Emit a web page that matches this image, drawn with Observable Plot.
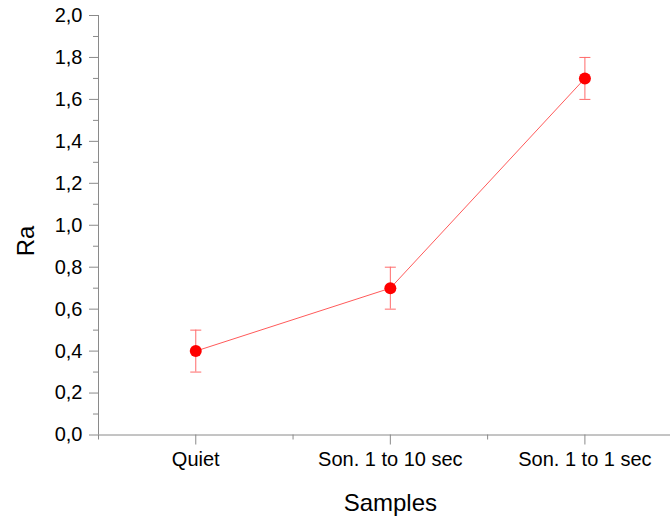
<!DOCTYPE html>
<html>
<head>
<meta charset="utf-8">
<script src="https://cdn.jsdelivr.net/npm/d3@7"></script>
<script src="https://cdn.jsdelivr.net/npm/@observablehq/plot@0.6"></script>
<style>
  html, body { margin: 0; padding: 0; background: #fff; }
  svg { display: block; }
</style>
</head>
<body>
<div id="chart"></div>
<script>
const categories = ["Quiet", "Son. 1 to 10 sec", "Son. 1 to 1 sec"];
const categoryPos = [1, 2, 3];
const raValues = [0.4, 0.7, 1.7];
const raErrors = [0.1, 0.1, 0.1];
const yMajorTicks = [0, 0.2, 0.4, 0.6, 0.8, 1.0, 1.2, 1.4, 1.6, 1.8, 2.0];
const yMinorTicks = [0.1, 0.3, 0.5, 0.7, 0.9, 1.1, 1.3, 1.5, 1.7, 1.9];
const xMinorTicks = [0.5, 1.5, 2.5];

const data = categories.map((c, i) => ({
  name: c,
  pos: categoryPos[i],
  ra: raValues[i],
  lo: raValues[i] - raErrors[i],
  hi: raValues[i] + raErrors[i]
}));

const capSymbol = {
  draw(context, size) {
    const w = Math.sqrt(size / Math.PI);
    context.moveTo(-w, 0);
    context.lineTo(w, 0);
  }
};

const axisColor = "#8a8a8a";
const lineColor = "#ff5a5a";
const errColor = "#ff6a6a";

const chart = Plot.plot({
  width: 670,
  height: 517,
  marginLeft: 98,
  marginRight: 0,
  marginTop: 15,
  marginBottom: 82.5,
  x: {type: "linear", domain: [0.5, 3.44]},
  y: {domain: [0, 2]},
  style: {fontFamily: "'Liberation Sans', Arial, sans-serif", fontSize: "20px", color: "black", background: "white"},
  marks: [
    Plot.ruleY([0], {stroke: axisColor}),
    Plot.ruleX([0.5], {stroke: axisColor}),
    Plot.axisY({ticks: yMajorTicks, tickSize: 9, tickPadding: 7, stroke: axisColor, fill: "black",
      tickFormat: d => d.toFixed(1).replace(".", ","), label: null, fontSize: 20}),
    Plot.axisY({ticks: yMinorTicks, tickSize: 5, stroke: axisColor, tickFormat: () => "", label: null}),
    Plot.axisX({ticks: categoryPos, tickSize: 10, tickPadding: 7, stroke: axisColor, fill: "black",
      tickFormat: (d) => categories[categoryPos.indexOf(d)], label: null, fontSize: 20}),
    Plot.axisX({ticks: xMinorTicks, tickSize: 5, stroke: axisColor, tickFormat: () => "", label: null}),
    Plot.line(data, {x: "pos", y: "ra", stroke: lineColor, strokeWidth: 1}),
    Plot.ruleX(data, {x: "pos", y1: "lo", y2: "hi", stroke: errColor, strokeWidth: 1}),
    Plot.dot(data, {x: "pos", y: "lo", symbol: capSymbol, r: 5.5, stroke: errColor, fill: "none", strokeWidth: 1}),
    Plot.dot(data, {x: "pos", y: "hi", symbol: capSymbol, r: 5.5, stroke: errColor, fill: "none", strokeWidth: 1}),
    Plot.dot(data, {x: "pos", y: "ra", r: 6, fill: "red", stroke: "none"}),
    Plot.text(["Samples"], {x: [2], frameAnchor: "bottom", dy: 76, fontSize: 24, fill: "black"}),
    Plot.text(["Ra"], {frameAnchor: "left", dx: -72, dy: 31, rotate: -90, fontSize: 24, fill: "black"})
  ]
});
document.getElementById("chart").appendChild(chart);
</script>
</body>
</html>
